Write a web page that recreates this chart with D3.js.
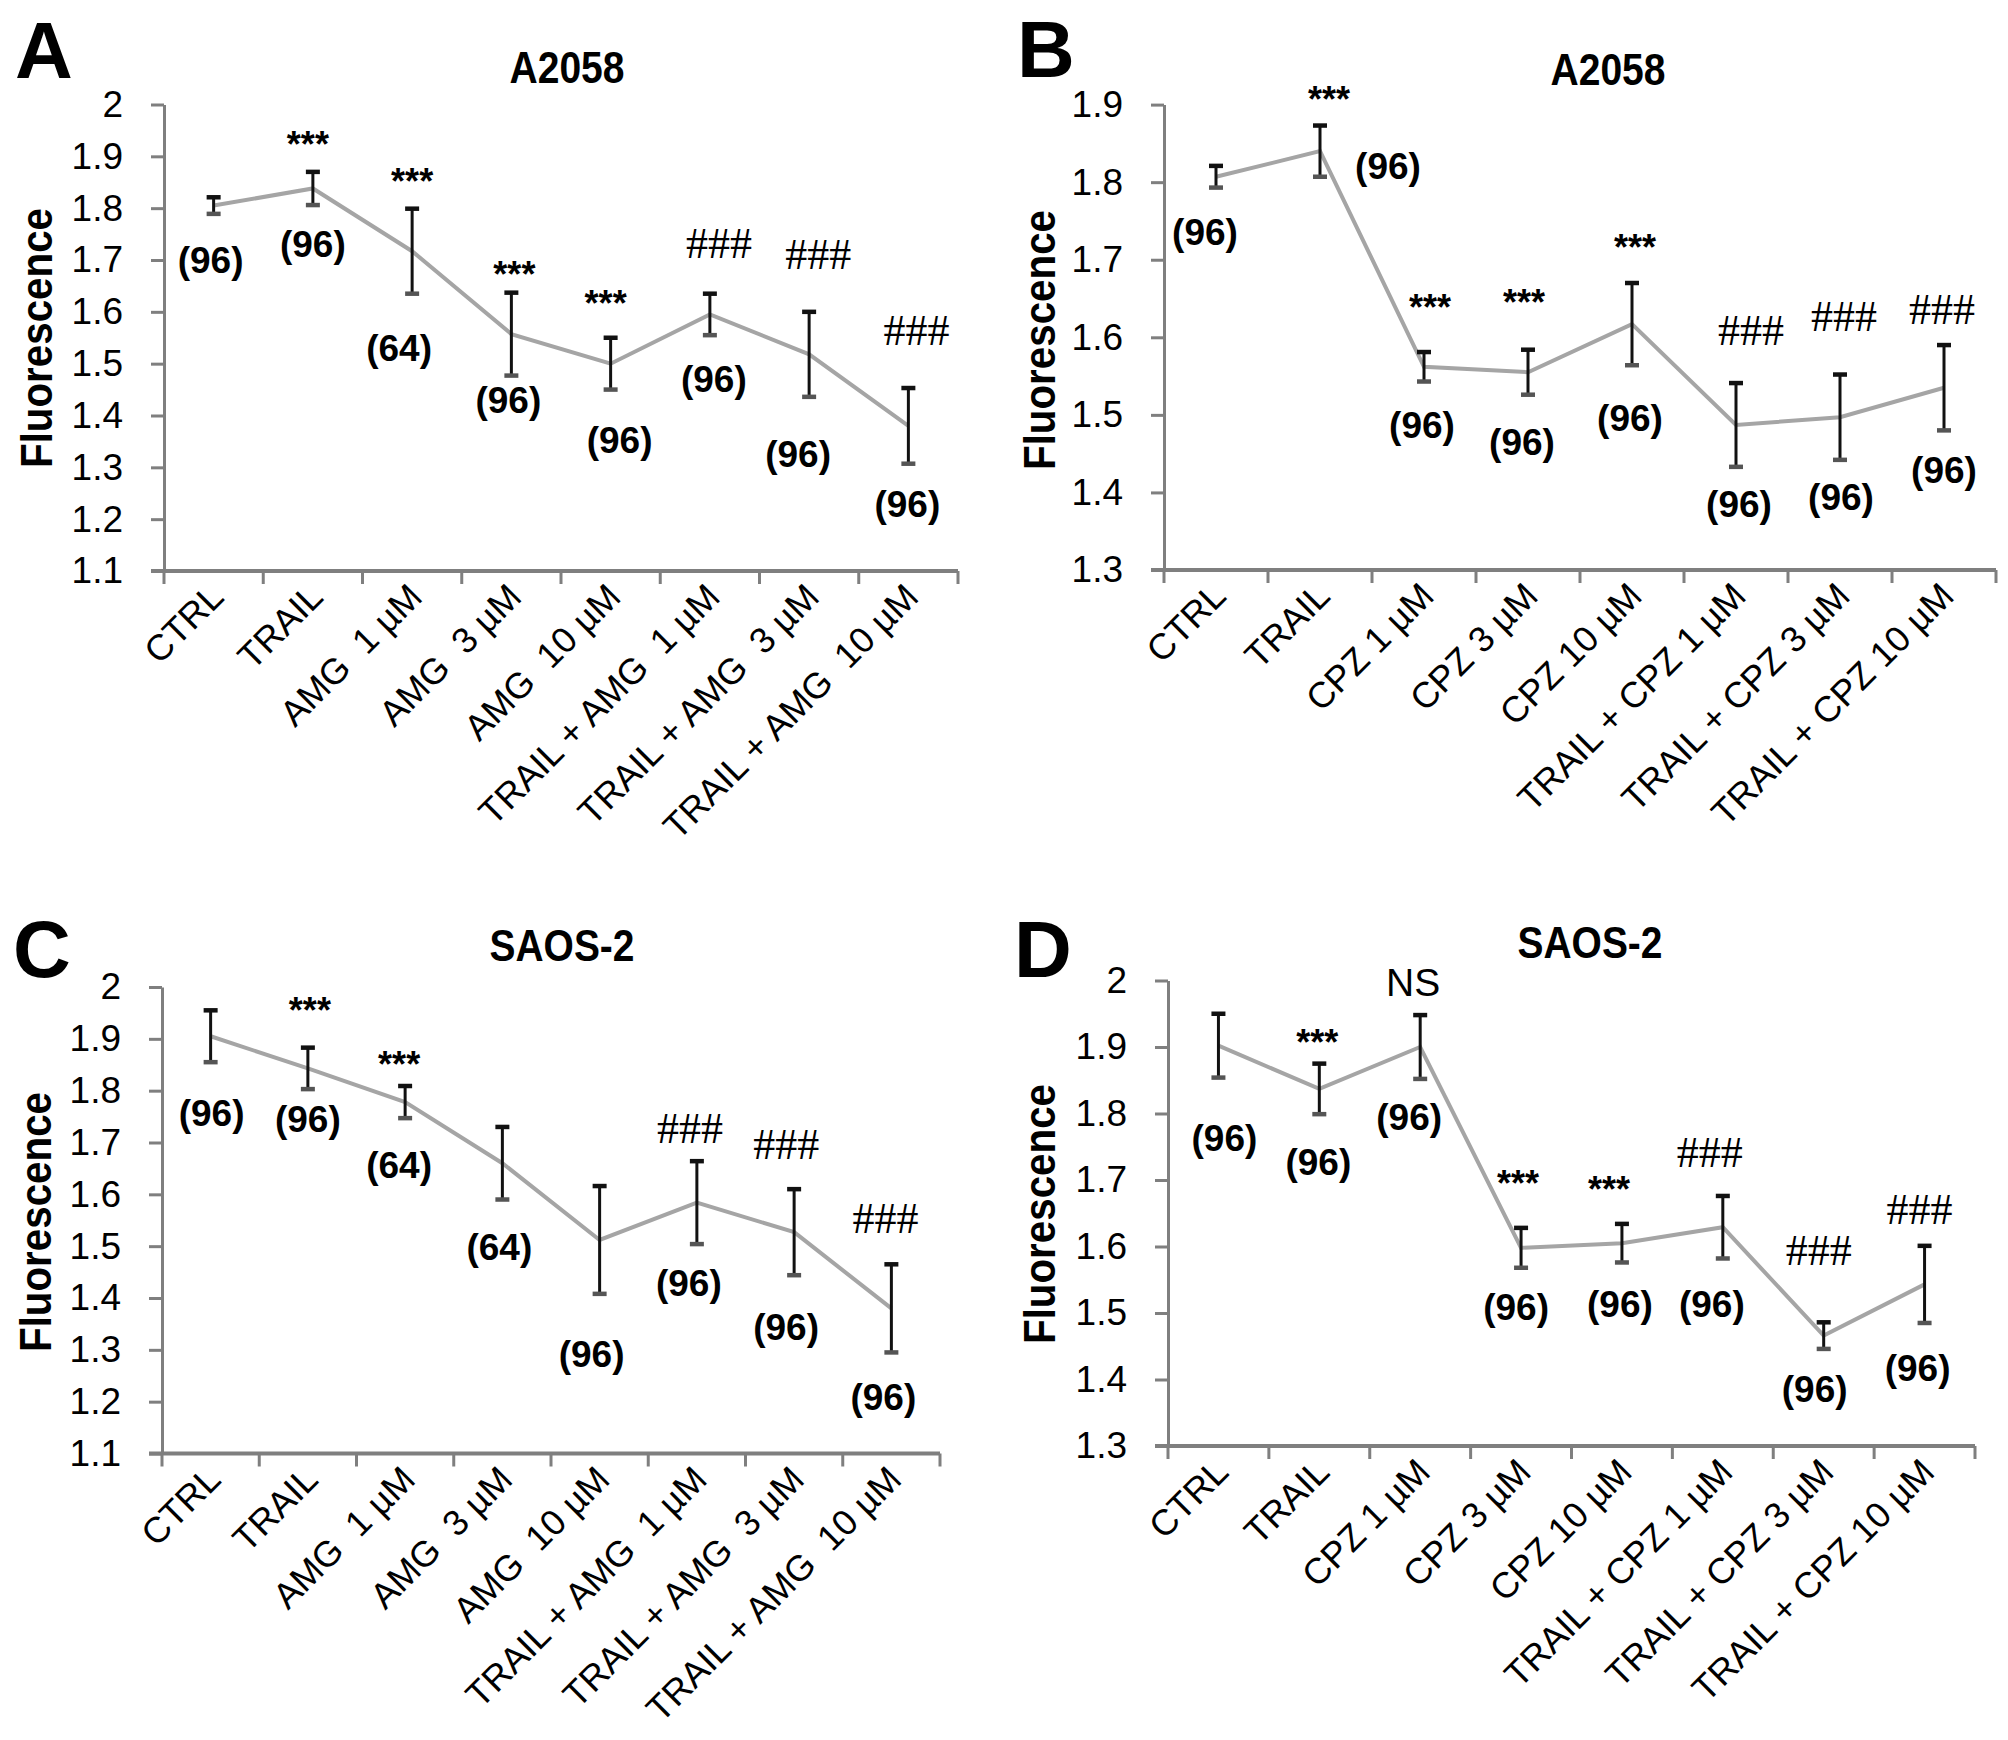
<!DOCTYPE html>
<meta charset="utf-8">
<html>
<style>
  body { margin: 0; background: #fff; }
  svg { display: block; }
  text { font-family: "Liberation Sans", Arial, sans-serif; fill: #000; }
  .tick text { font-size: 37px; }
  .xlab { font-size: 36px; white-space: pre; }
  .nlab { font-size: 37px; font-weight: bold; }
  .star { font-size: 36px; font-weight: bold; }
  .hash { font-family: "Liberation Serif", "Times New Roman", serif; font-size: 44px; }
  .ns { font-size: 39px; }
</style>
<script src="https://cdn.jsdelivr.net/npm/d3@7"></script>
<body>
  <svg class="chart"></svg>
</body>
<script>
  // categories
  var catsAMG = ["CTRL", "TRAIL", "AMG  1 µM", "AMG  3 µM", "AMG  10 µM",
    "TRAIL + AMG  1 µM", "TRAIL + AMG  3 µM", "TRAIL + AMG  10 µM"];
  var catsCPZ = ["CTRL", "TRAIL", "CPZ 1 µM", "CPZ 3 µM", "CPZ 10 µM",
    "TRAIL + CPZ 1 µM", "TRAIL + CPZ 3 µM", "TRAIL + CPZ 10 µM"];

  // A - A2058 / AMG
  var meanA = [1.805, 1.838, 1.717, 1.557, 1.500, 1.595, 1.518, 1.380];
  var errA = [0.016, 0.032, 0.082, 0.080, 0.050, 0.040, 0.082, 0.073];
  var nA = ["(96)", "(96)", "(64)", "(96)", "(96)", "(96)", "(96)", "(96)"];
  var sigA = ["", "***", "***", "***", "***", "###", "###", "###"];
  var ticksA = [1.1, 1.2, 1.3, 1.4, 1.5, 1.6, 1.7, 1.8, 1.9, 2];

  // B - A2058 / CPZ
  var meanB = [1.807, 1.840, 1.562, 1.555, 1.617, 1.487, 1.497, 1.535];
  var errB = [0.014, 0.033, 0.019, 0.029, 0.053, 0.054, 0.055, 0.055];
  var nB = ["(96)", "(96)", "(96)", "(96)", "(96)", "(96)", "(96)", "(96)"];
  var sigB = ["", "***", "***", "***", "***", "###", "###", "###"];
  var ticksB = [1.3, 1.4, 1.5, 1.6, 1.7, 1.8, 1.9];

  // C - SAOS-2 / AMG
  var meanC = [1.905, 1.843, 1.778, 1.660, 1.512, 1.584, 1.527, 1.380];
  var errC = [0.050, 0.040, 0.031, 0.070, 0.104, 0.080, 0.083, 0.085];
  var nC = ["(96)", "(96)", "(64)", "(64)", "(96)", "(96)", "(96)", "(96)"];
  var sigC = ["", "***", "***", "", "", "###", "###", "###"];
  var ticksC = [1.1, 1.2, 1.3, 1.4, 1.5, 1.6, 1.7, 1.8, 1.9, 2];

  // D - SAOS-2 / CPZ
  var meanD = [1.902, 1.837, 1.900, 1.598, 1.605, 1.629, 1.466, 1.543];
  var errD = [0.048, 0.038, 0.048, 0.030, 0.029, 0.047, 0.020, 0.058];
  var nD = ["(96)", "(96)", "(96)", "(96)", "(96)", "(96)", "(96)", "(96)"];
  var sigD = ["", "***", "NS", "***", "***", "###", "###", "###"];
  var ticksD = [1.3, 1.4, 1.5, 1.6, 1.7, 1.8, 1.9, 2];

  // layout of each panel (pixels) and where the annotations sit
  var panels = [
    { letter: "A", title: "A2058", cats: catsAMG, mean: meanA, err: errA, n: nA, sig: sigA, ticks: ticksA,
      x0: 164, x1: 958, yTop: 104.5, yBot: 571, letterPos: [15, 78], titlePos: [567, 83], titleW: 115,
      titleFont: "bold", ylab: [52, 338],
      nPos: [1.697, 1.727, 1.526, 1.426, 1.349, 1.467, 1.322, 1.226], nDx: [-3, 0, -13, -3, 9, 4, -11, -1],
      sigPos: [0, 1.938, 1.866, 1.687, 1.631, 1.733, 1.712, 1.565], sigDx: [0, -5, 0, 3, -5, 9, 9, 8] },
    { letter: "B", title: "A2058", cats: catsCPZ, mean: meanB, err: errB, n: nB, sig: sigB, ticks: ticksB,
      x0: 1164, x1: 1996, yTop: 104.6, yBot: 570, letterPos: [1017, 77], titlePos: [1608, 84.5], titleW: 115,
      titleFont: "bold", ylab: [1055, 340],
      nPos: [1.733, 1.818, 1.485, 1.463, 1.493, 1.383, 1.391, 1.426], nDx: [-11, 68, -2, -6, -2, 3, 1, 0],
      sigPos: [0, 1.916, 1.648, 1.654, 1.726, 1.610, 1.627, 1.636], sigDx: [0, 9, 6, -4, 3, 15, 4, -2] },
    { letter: "C", title: "SAOS-2", cats: catsAMG, mean: meanC, err: errC, n: nC, sig: sigC, ticks: ticksC,
      x0: 162, x1: 940, yTop: 987, yBot: 1453.5, letterPos: [13, 977], titlePos: [562, 961], titleW: 145,
      titleFont: "calibri", ylab: [51, 1222],
      nPos: [1.753, 1.741, 1.653, 1.494, 1.288, 1.425, 1.340, 1.205], nDx: [1, 0, -6, -3, -8, -8, -8, -8],
      sigPos: [0, 1.969, 1.865, 0, 0, 1.728, 1.697, 1.554], sigDx: [0, 2, -6, 0, 0, -7, -8, -6] },
    { letter: "D", title: "SAOS-2", cats: catsCPZ, mean: meanD, err: errD, n: nD, sig: sigD, ticks: ticksD,
      x0: 1168, x1: 1975, yTop: 980.5, yBot: 1446, letterPos: [1014, 977], titlePos: [1590, 958], titleW: 145,
      titleFont: "calibri", ylab: [1055, 1214],
      nPos: [1.760, 1.724, 1.792, 1.506, 1.510, 1.510, 1.383, 1.415], nDx: [6, -1, -11, -5, -2, -11, -9, -7],
      sigPos: [0, 1.918, 1.998, 1.706, 1.697, 1.742, 1.595, 1.657], sigDx: [0, -2, -7, -3, -13, -13, -5, -5] }
  ];

  var axisColor = "#7f7f7f";
  var lineColor = "#a5a5a5";

  var svg = d3.select(".chart")
    .attr("width", 2008)
    .attr("height", 1740);

  panels.forEach(function(p) {
    var g = svg.append("g");

    var x = d3.scaleBand().domain(p.cats).range([p.x0, p.x1]).padding(0);
    var y = d3.scaleLinear()
      .domain([d3.min(p.ticks), d3.max(p.ticks)])
      .range([p.yBot, p.yTop]);
    var cx = function(d) { return x(d) + x.bandwidth() / 2; };

    // y axis
    var yAxis = g.append("g")
      .attr("transform", "translate(" + p.x0 + ",0)")
      .call(d3.axisLeft(y).tickValues(p.ticks).tickSize(13).tickSizeOuter(0).tickPadding(28)
        .tickFormat(function(d) { return String(+d.toFixed(1)); }));
    yAxis.selectAll("path, line").attr("stroke", axisColor).attr("stroke-width", 3);
    yAxis.attr("font-family", null).attr("font-size", null);

    // x axis line and ticks at category borders
    g.append("line")
      .attr("x1", p.x0 - 13).attr("x2", p.x1)
      .attr("y1", y.range()[0]).attr("y2", y.range()[0])
      .attr("stroke", axisColor).attr("stroke-width", 4);
    g.selectAll(".xt")
      .data(d3.range(p.cats.length + 1))
      .enter().append("line")
      .attr("x1", function(i) { return p.x0 + i * x.step(); })
      .attr("x2", function(i) { return p.x0 + i * x.step(); })
      .attr("y1", y.range()[0]).attr("y2", y.range()[0] + 13)
      .attr("stroke", axisColor).attr("stroke-width", 3);

    g.selectAll(".xlab")
      .data(p.cats)
      .enter().append("text")
      .attr("class", "xlab")
      .attr("text-anchor", "end")
      .attr("transform", function(d) {
        return "translate(" + (cx(d) + 12) + "," + (y.range()[0] + 28) + ") rotate(-45)";
      })
      .text(function(d) { return d; });

    // data line
    var line = d3.line()
      .x(function(d, i) { return cx(p.cats[i]); })
      .y(function(d) { return y(d); });
    g.append("path")
      .datum(p.mean)
      .attr("d", line)
      .attr("fill", "none")
      .attr("stroke", lineColor)
      .attr("stroke-width", 4);

    // error bars
    var eb = g.selectAll(".eb")
      .data(p.mean)
      .enter().append("g");
    eb.append("line")
      .attr("x1", function(d, i) { return cx(p.cats[i]); })
      .attr("x2", function(d, i) { return cx(p.cats[i]); })
      .attr("y1", function(d, i) { return y(d + p.err[i]); })
      .attr("y2", function(d, i) { return y(d - p.err[i]); })
      .attr("stroke", "#111").attr("stroke-width", 3);
    [1, -1].forEach(function(s) {
      eb.append("line")
        .attr("x1", function(d, i) { return cx(p.cats[i]) - 7; })
        .attr("x2", function(d, i) { return cx(p.cats[i]) + 7; })
        .attr("y1", function(d, i) { return y(d + s * p.err[i]); })
        .attr("y2", function(d, i) { return y(d + s * p.err[i]); })
        .attr("stroke", s > 0 ? "#111" : "#555").attr("stroke-width", 4.5);
    });

    // n labels
    g.selectAll(".nlab")
      .data(p.n)
      .enter().append("text")
      .attr("class", "nlab")
      .attr("text-anchor", "middle")
      .attr("x", function(d, i) { return cx(p.cats[i]) + p.nDx[i]; })
      .attr("y", function(d, i) { return y(p.nPos[i]) + 11; })
      .text(function(d) { return d; });

    // significance marks (empty strings stay empty so indexes line up)
    g.selectAll(".sig")
      .data(p.sig)
      .enter().append("text")
      .attr("class", function(d) { return d === "###" ? "hash" : d === "NS" ? "ns" : "star"; })
      .attr("text-anchor", "middle")
      .attr("x", function(d, i) { return cx(p.cats[i]) + p.sigDx[i]; })
      .attr("y", function(d, i) {
        var off = d === "###" ? 15 : d === "NS" ? 14 : 20;
        return d === "" ? 0 : y(p.sigPos[i]) + off;
      })
      .text(function(d) { return d; });

    // titles
    g.append("text")
      .attr("x", p.letterPos[0]).attr("y", p.letterPos[1])
      .attr("font-size", 80).attr("font-weight", "bold")
      .text(p.letter);

    g.append("text")
      .attr("x", p.titlePos[0] - p.titleW / 2).attr("y", p.titlePos[1])
      .attr("font-size", 44).attr("font-weight", "bold")
      .attr("font-family", p.titleFont === "calibri" ? "'Open Sans', sans-serif" : null)
      .attr("textLength", p.titleW).attr("lengthAdjust", "spacingAndGlyphs")
      .text(p.title);

    g.append("text")
      .attr("transform", "translate(" + p.ylab[0] + "," + p.ylab[1] + ") rotate(-90)")
      .attr("text-anchor", "middle")
      .attr("font-size", 44).attr("font-weight", "bold")
      .attr("textLength", 260).attr("lengthAdjust", "spacingAndGlyphs")
      .text("Fluorescence");
  });
</script>

</html>
